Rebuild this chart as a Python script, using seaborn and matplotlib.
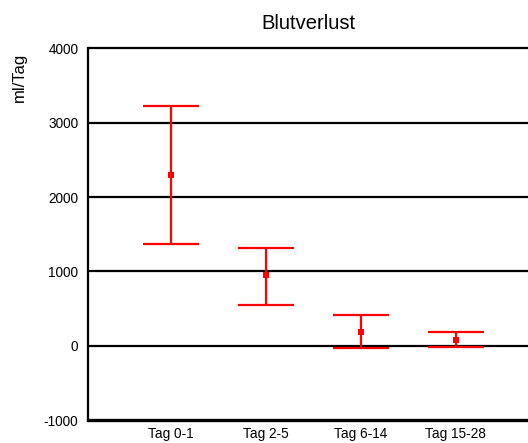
import matplotlib
matplotlib.use("Agg")
import matplotlib.pyplot as plt
import seaborn as sns
import pandas as pd

categories = ["Tag 0-1", "Tag 2-5", "Tag 6-14", "Tag 15-28"]
means = [2300, 950, 180, 70]
upper = [3230, 1320, 415, 182]
lower = [1370, 553, -30, -12]
y_ticks = [-1000, 0, 1000, 2000, 3000, 4000]

sns.set_theme(style="white")
plt.rcParams["font.family"] = ["Liberation Sans", "DejaVu Sans"]

df = pd.DataFrame({"Zeitraum": categories, "Blutverlust": means})

fig = plt.figure(figsize=(5.28, 4.43), dpi=100)
ax = fig.add_axes([88 / 528, 1 - 420 / 443, 1 - 88 / 528, (420 - 48.5) / 443])

for t in [0, 1000, 2000, 3000, 4000]:
    ax.axhline(t, color="black", lw=1.6, zorder=1, clip_on=False)

pos = list(range(len(categories)))
yerr = [[m - l for m, l in zip(means, lower)], [u - m for m, u in zip(means, upper)]]
ax.errorbar(pos, means, yerr=yerr, fmt="none", ecolor="#ff0000", elinewidth=1.6,
            capsize=20, capthick=1.6, zorder=3)
sns.scatterplot(data=df, x="Zeitraum", y="Blutverlust", marker="s", color="#ff0000",
                s=24, edgecolor="#ff0000", linewidth=0, ax=ax, zorder=4)

ax.set_xlim(-0.87, 3.76)
ax.set_ylim(-1000, 4000)
ax.set_yticks(y_ticks)
ax.set_yticklabels([str(v) for v in y_ticks], fontsize=9.8)
ax.set_xticks(pos)
ax.set_xticklabels(categories, fontsize=9.8)
ax.tick_params(axis="y", length=3, width=2.2, direction="out", pad=4, colors="black")
ax.tick_params(axis="x", length=0, pad=5, colors="black")

for side in ["top", "right"]:
    ax.spines[side].set_visible(False)
ax.spines["left"].set_linewidth(1.6)
ax.spines["left"].set_color("black")
ax.spines["bottom"].set_linewidth(2.4)
ax.spines["bottom"].set_color("black")

ax.set_xlabel("")
ax.set_ylabel("ml/Tag", fontsize=12, color="black")
ax.yaxis.set_label_coords(-0.138, 0.923)
ax.set_title("Blutverlust", fontsize=14.5, pad=14, color="black")

fig.savefig("out.png", dpi=100)
